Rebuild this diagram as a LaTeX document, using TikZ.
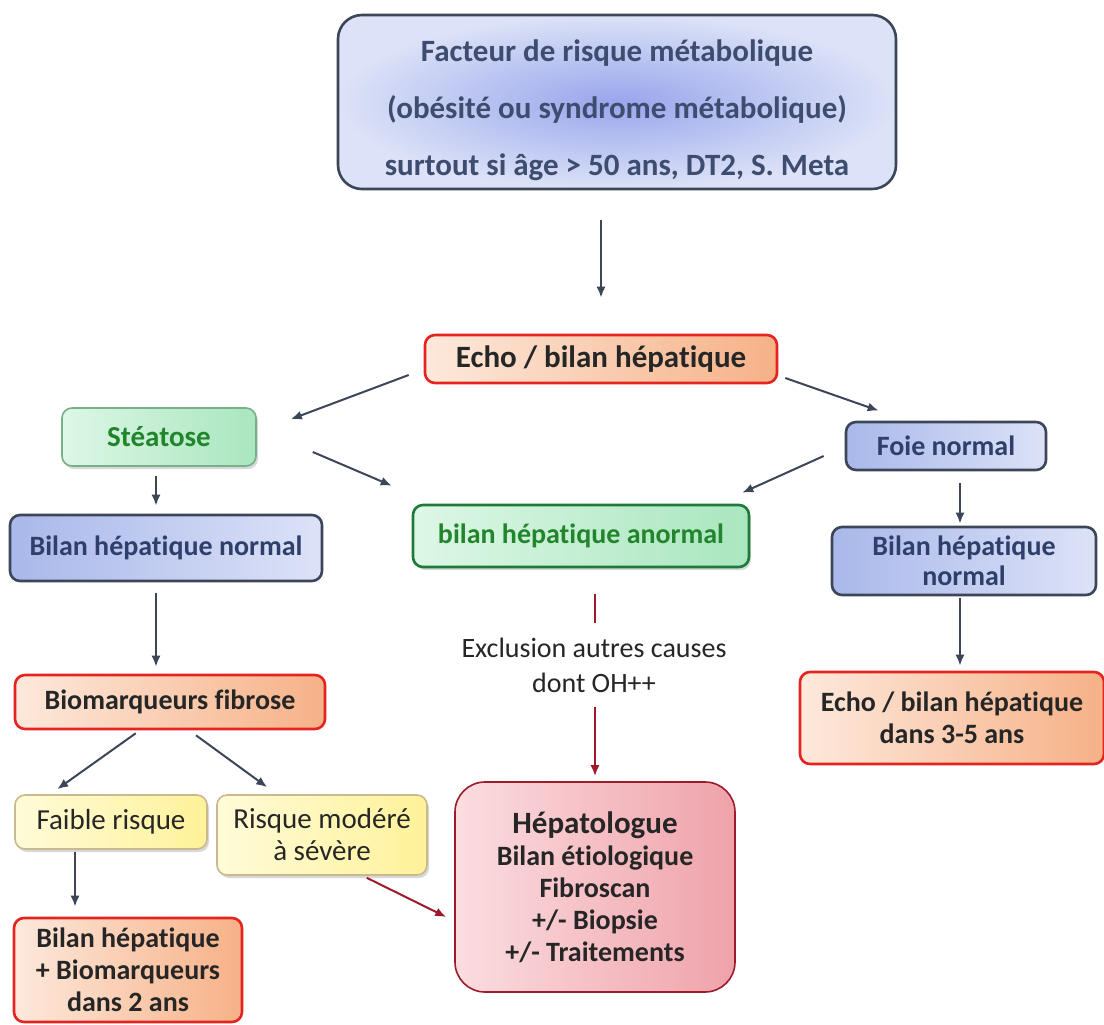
\documentclass[tikz,border=0pt]{standalone}
\usepackage{fontspec}
\setmainfont{Carlito}[Ligatures=NoCommon]
\usetikzlibrary{arrows.meta,positioning,shadows}
\definecolor{Slate}{HTML}{3C4658}
\definecolor{Navy}{HTML}{2E3F6B}
\definecolor{BlueDeep}{HTML}{A9B8EA}
\definecolor{BlueLight}{HTML}{DCE2F7}
\definecolor{RedLine}{HTML}{E5231F}
\definecolor{OrangeLight}{HTML}{FDE9DC}
\definecolor{OrangeDeep}{HTML}{F6B187}
\definecolor{GreenText}{HTML}{22852B}
\definecolor{GreenLine}{HTML}{1F7A3A}
\definecolor{GreenLight}{HTML}{DDF7E6}
\definecolor{GreenDeep}{HTML}{A9E6BF}
\definecolor{YellowLight}{HTML}{FFFBD8}
\definecolor{YellowDeep}{HTML}{FFF29A}
\definecolor{YellowLine}{HTML}{C8B98E}
\definecolor{PinkLight}{HTML}{FBDDE0}
\definecolor{PinkDeep}{HTML}{EFA2AA}
\definecolor{DarkRed}{HTML}{9E1B2B}
\tikzset{
    box/.style={rounded corners=5pt, line width=1.3pt, align=center,
        font=\bfseries\fontsize{14}{16}\selectfont, inner sep=2pt},
    bluebox/.style={box, draw=Slate, left color=BlueDeep, right color=BlueLight, text=Navy},
    orangebox/.style={box, draw=RedLine, left color=OrangeLight, right color=OrangeDeep, text=black!85},
    greenbox/.style={box, draw=GreenLine, left color=GreenLight, right color=GreenDeep, text=GreenText,
        drop shadow={opacity=0.3, shadow xshift=1pt, shadow yshift=-1.5pt}},
    yellowbox/.style={box, line width=0.8pt, draw=YellowLine, left color=YellowLight, right color=YellowDeep,
        text=black!85, font=\fontsize{14.5}{16}\selectfont,
        drop shadow={opacity=0.3, shadow xshift=1pt, shadow yshift=-1.5pt}},
    arr/.style={-{Latex[length=5.5pt,width=4.5pt]}, line width=1pt, draw=Slate},
    redarr/.style={arr, draw=DarkRed},
}
\begin{document}
\begin{tikzpicture}[x=0.5pt, y=-0.5pt]
    \useasboundingbox[fill=white] (0,0) rectangle (1104,1024);
    % boxes
    \node[box, draw=Slate, shading=radial, inner color=BlueDeep!90!blue, outer color=BlueLight, text=Navy!80!gray,
          rounded corners=12pt, minimum width=279pt, minimum height=87pt,
          font=\bfseries\fontsize{15.5}{28.5}\selectfont] (top) at (617,102)
        {\rule{0pt}{19pt}Facteur de risque métabolique\\(obésité ou syndrome métabolique)\\surtout si âge > 50 ans, DT2, S. Meta};
    \node[orangebox, minimum width=176pt, minimum height=24pt, font=\bfseries\fontsize{15.5}{16}\selectfont]
        (echo) at (601,359) {Echo / bilan hépatique};
    \node[greenbox, line width=0.8pt, draw=GreenLine!60, minimum width=97pt, minimum height=29pt,
          font=\bfseries\fontsize{14.5}{16}\selectfont] (steatose) at (159,437) {Stéatose};
    \node[bluebox, minimum width=100pt, minimum height=24pt] (foie) at (946,446) {Foie normal};
    \node[greenbox, minimum width=168pt, minimum height=31pt] (anormal) at (581,536) {bilan hépatique anormal};
    \node[bluebox, minimum width=156pt, minimum height=33pt] (bhnl) at (166,548) {Bilan hépatique normal};
    \node[bluebox, minimum width=132pt, minimum height=34pt, font=\bfseries\fontsize{14}{15}\selectfont]
        (bhnr) at (964,561) {Bilan hépatique\\normal};
    \node[orangebox, minimum width=155pt, minimum height=27pt] (bio) at (170,702) {Biomarqueurs fibrose};
    \node[orangebox, minimum width=152pt, minimum height=46pt] (echo35) at (952,718)
        {Echo / bilan hépatique\\dans 3-5 ans};
    \node[yellowbox, minimum width=96pt, minimum height=27pt] (faible) at (111,822) {Faible risque};
    \node[yellowbox, minimum width=105pt, minimum height=40pt] (modere) at (322,835) {Risque modéré\\à sévère};
    \node[box, line width=0.8pt, draw=DarkRed, left color=PinkLight, right color=PinkDeep, text=black!85,
          rounded corners=15pt, minimum width=140pt, minimum height=105pt] (hepato) at (595,887)
        {{\fontsize{15.5}{16}\selectfont Hépatologue}\\Bilan étiologique\\Fibroscan\\+/- Biopsie\\+/- Traitements};
    \node[orangebox, minimum width=114pt, minimum height=52pt] (bilan2) at (128,970)
        {Bilan hépatique\\+ Biomarqueurs\\dans 2 ans};
    \node[align=center, text=black!85, font=\fontsize{14}{17.5}\selectfont, inner sep=0pt]
        (excl) at (594,665) {Exclusion autres causes\\dont OH++};
    % connectors
    \draw[arr, shorten <=15pt, shorten >=18pt] (top.south -| echo.north) -- (echo.north);
    \draw[arr] ([shift={(-15,16)}]echo.west) -- ([shift={(34,12)}]steatose.north east);
    \draw[arr] ([shift={(7,19)}]echo.east) -- ([shift={(34,-10)}]foie.north west);
    \draw[arr] ([shift={(56,15)}]steatose.east) -- ([shift={(-20,-18)}]anormal.north west);
    \draw[arr] ([shift={(-21,10)}]foie.west) -- ([shift={(-8,-11)}]anormal.north east);
    \draw[arr] ([shift={(-3,9)}]steatose.south) -- ([shift={(-10,-8)}]bhnl.north);
    \draw[arr] ([shift={(-10,11)}]bhnl.south) -- ([shift={(-14,-7)}]bio.north);
    \draw[arr] ([shift={(122,3)}]bio.south west) -- ([shift={(43,-5)}]faible.north west);
    \draw[arr] ([shift={(26,5)}]bio.south) -- ([shift={(51,-7)}]modere.north west);
    \draw[arr] ([shift={(-36,2)}]faible.south) -- ([shift={(-53,-10)}]bilan2.north);
    \draw[redarr] ([shift={(-61,2)}]modere.south east) -- ([shift={(-8,30)}]hepato.west);
    \draw[redarr, -] ([shift={(14,26)}]anormal.south) -- ([shift={(1,-14)}]excl.north);
    \draw[redarr] ([shift={(1,14)}]excl.south) -- ([shift={(0,-5)}]hepato.north);
    \draw[arr] ([shift={(14,12)}]foie.south) -- ([shift={(-4,-2)}]bhnr.north);
    \draw[arr] ([shift={(-4,2)}]bhnr.south) -- ([shift={(8,-5)}]echo35.north);
\end{tikzpicture}
\end{document}
